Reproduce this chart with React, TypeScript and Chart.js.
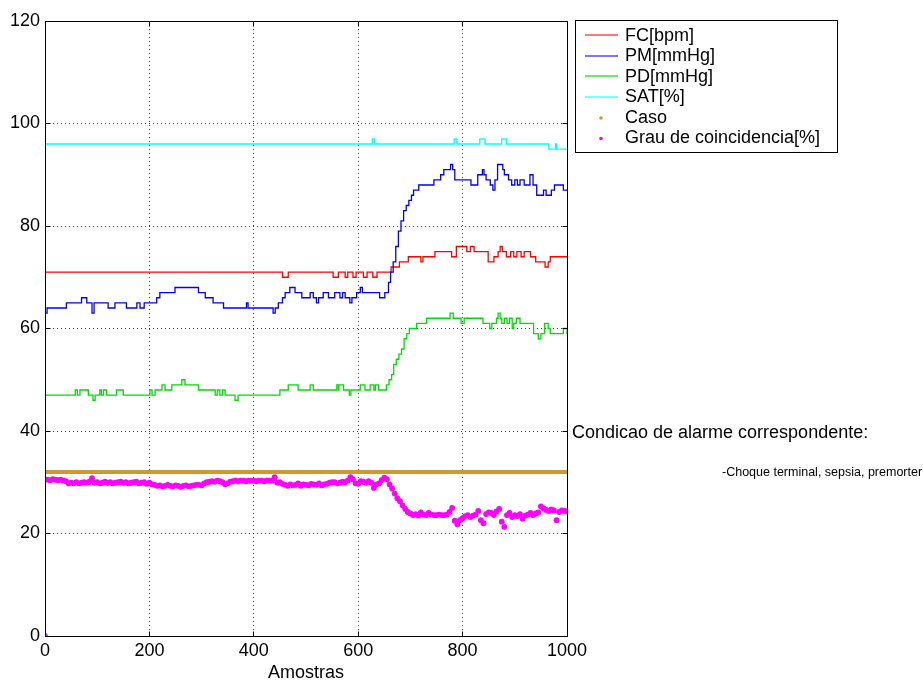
import React, { useEffect, useRef } from 'react';
import { Chart, registerables } from 'chart.js';

Chart.register(...registerables);

// ---------- data ----------
const xTickStep = 200;
const yTickStep = 20;
const xMax = 1000;
const yMax = 120;

// step breakpoints: [sample, value] (value holds from that sample onwards)
const fcSteps: [number, number][] = [
  [0, 71], [455, 70], [466, 71], [552, 70], [562, 71], [575, 70], [580, 71], [590, 70], [596, 71],
  [610, 70], [617, 71], [628, 70], [636, 71], [663, 72], [679, 73], [696, 74], [720, 73], [724, 74],
  [747, 75], [779, 74], [788, 76], [808, 75], [815, 76], [822, 75], [849, 73], [860, 74], [868, 75],
  [872, 76], [876, 75], [884, 74], [892, 75], [898, 74], [904, 75], [912, 74], [918, 75], [930, 74],
  [940, 73], [958, 72], [964, 73], [968, 74], [1000, 74],
];

const pmSteps: [number, number][] = [
  [0, 63], [4, 64], [41, 65], [70, 66], [80, 65], [90, 63], [94, 65], [121, 64], [134, 65], [156, 64],
  [176, 65], [182, 64], [190, 65], [214, 66], [220, 67], [249, 68], [294, 67], [307, 66], [322, 65],
  [342, 64], [386, 65], [389, 64], [437, 63], [441, 64], [447, 65], [455, 66], [460, 67], [469, 68],
  [479, 67], [492, 66], [508, 67], [514, 66], [520, 65], [524, 66], [533, 67], [543, 66], [555, 67],
  [565, 66], [570, 67], [575, 66], [584, 65], [588, 66], [597, 67], [604, 68], [608, 67], [641, 66],
  [651, 67], [658, 69], [662, 71], [667, 73], [672, 76], [677, 79], [682, 81], [687, 83], [692, 84],
  [697, 85], [702, 86], [706, 87], [716, 88], [745, 89], [758, 90], [764, 91], [777, 92], [781, 91],
  [785, 89], [816, 88], [829, 90], [838, 91], [841, 90], [845, 89], [853, 88], [858, 87], [862, 89],
  [867, 92], [877, 91], [880, 90], [888, 89], [894, 88], [900, 89], [905, 88], [910, 89], [918, 88],
  [929, 90], [935, 88], [942, 86], [955, 87], [960, 86], [970, 87], [976, 88], [993, 87], [1000, 87],
];

const pdSteps: [number, number][] = [
  [0, 47], [58, 48], [62, 47], [67, 48], [83, 47], [92, 46], [96, 47], [105, 48], [108, 47], [112, 48],
  [118, 47], [137, 48], [150, 47], [201, 48], [205, 47], [211, 48], [224, 49], [230, 48], [243, 49],
  [262, 50], [268, 49], [294, 48], [326, 47], [330, 48], [335, 47], [340, 48], [345, 47], [364, 46],
  [370, 47], [450, 48], [466, 49], [485, 48], [508, 49], [514, 48], [559, 49], [563, 48], [562, 49],
  [572, 48], [583, 47], [586, 48], [604, 49], [613, 48], [623, 49], [630, 48], [633, 49], [639, 48],
  [654, 49], [659, 50], [664, 51], [668, 53], [673, 54], [678, 55], [683, 56], [688, 58], [693, 59],
  [698, 60], [712, 61], [731, 62], [776, 63], [782, 62], [797, 61], [803, 62], [839, 61], [852, 60],
  [856, 61], [865, 62], [868, 63], [872, 62], [875, 61], [880, 62], [885, 61], [890, 62], [895, 60],
  [898, 61], [903, 62], [910, 61], [936, 59], [945, 58], [950, 59], [957, 61], [964, 60], [968, 59],
  [993, 60], [1000, 59],
];

const satSteps: [number, number][] = [
  [0, 96], [627, 97], [631, 96], [784, 97], [789, 96], [833, 97], [843, 96], [875, 97], [884, 96],
  [965, 95], [978, 96], [980, 95], [1000, 95],
];

const casoValue = 32;

// Grau de coincidencia, one value every 5 samples (0 .. 1000)
const grauStep = 5;
const grauValues: number[] = [
  0, 30.5, 30.4, 30.6, 30.5, 30.4, 30.5, 30.3, 30.2, 29.8,
  29.9, 29.8, 30.0, 29.8, 29.9, 30.0, 29.9, 30.1, 30.8, 29.9,
  30.0, 29.8, 29.9, 30.1, 29.9, 30.0, 29.8, 29.9, 30.0, 30.1,
  29.9, 30.0, 29.8, 29.9, 30.0, 30.1, 29.8, 29.9, 30.0, 29.7,
  29.9, 29.6, 29.5, 29.3, 29.4, 29.2, 29.3, 29.5, 29.3, 29.2,
  29.4, 29.3, 29.1, 29.3, 29.4, 29.2, 29.3, 29.4, 29.5, 29.5,
  29.4, 29.8, 30.0, 30.1, 30.2, 30.1, 30.3, 30.2, 30.0, 29.6,
  29.8, 30.1, 30.2, 30.3, 30.2, 30.3, 30.3, 30.2, 30.3, 30.3,
  30.3, 30.2, 30.3, 30.3, 30.2, 30.3, 30.3, 30.3, 31.0, 29.9,
  30.0, 29.7, 29.5, 29.3, 29.6, 29.4, 29.5, 29.8, 29.3, 29.6,
  29.5, 29.4, 29.7, 29.6, 29.5, 29.8, 29.4, 29.6, 29.7, 29.9,
  30.0, 30.0, 29.8, 29.9, 30.1, 30.0, 30.3, 31.0, 30.6, 29.8,
  29.7, 30.2, 30.1, 29.9, 30.2, 29.9, 28.9, 29.6, 29.8, 30.4,
  30.9, 30.6, 29.6, 28.8, 27.8, 26.9, 26.3, 25.5, 24.8, 24.2,
  23.9, 23.6, 23.8, 23.5, 24.1, 23.7, 23.6, 24.0, 23.7, 23.6,
  23.6, 23.7, 23.6, 23.6, 23.7, 24.2, 25.0, 22.5, 21.8, 22.6,
  23.0, 23.4, 23.6, 23.2, 23.5, 23.7, 24.4, 22.6, 22.0, 23.8,
  24.1, 24.0, 23.6, 24.3, 24.8, 22.3, 21.3, 23.6, 24.0, 23.2,
  23.6, 23.4, 23.8, 22.9, 23.5, 23.7, 24.0, 23.6, 23.9, 24.1,
  25.3, 24.9, 24.6, 24.4, 24.7, 24.5, 22.6, 24.2, 24.5, 24.4,
  24.3,
];

const seriesLabels = ['FC[bpm]', 'PM[mmHg]', 'PD[mmHg]', 'SAT[%]', 'Caso', 'Grau de coincidencia[%]'];
const seriesColors = ['#ff0000', '#0000ff', '#00dd00', '#00ffff', 'rgb(204,153,51)', '#ff00ff'];
const legendLineColors = ['#f77', '#77f', '#6e6', '#7ff'];
const xTitle = 'Amostras';
const alarmTitle = 'Condicao de alarme correspondente:';
const alarmText = '-Choque terminal, sepsia, premorter';

const FONT = "'Liberation Sans', Arial, Helvetica, sans-serif";

// ---------- plugin: box frame, inward ticks, legend, annotations ----------
const matlabPlugin = {
  id: 'matlabDecor',
  afterDraw(chart: any) {
    const { ctx, chartArea: a, scales } = chart;
    const L = Math.floor(a.left) + 0.5;
    const R = Math.floor(a.right) + 0.5;
    const T = Math.floor(a.top) + 0.5;
    const B = Math.floor(a.bottom) + 0.5;
    ctx.save();
    ctx.strokeStyle = '#000';
    ctx.lineWidth = 1;
    ctx.setLineDash([]);
    ctx.strokeRect(L, T, R - L, B - T);
    const tl = 5;
    ctx.beginPath();
    for (let v = 0; v <= xMax; v += xTickStep) {
      const px = Math.floor(scales.x.getPixelForValue(v)) + 0.5;
      ctx.moveTo(px, B); ctx.lineTo(px, B - tl);
      ctx.moveTo(px, T); ctx.lineTo(px, T + tl);
    }
    for (let v = 0; v <= yMax; v += yTickStep) {
      const py = Math.floor(scales.y.getPixelForValue(v)) + 0.5;
      ctx.moveTo(L, py); ctx.lineTo(L + tl, py);
      ctx.moveTo(R, py); ctx.lineTo(R - tl, py);
    }
    ctx.stroke();

    // legend box
    const lx = 575.5, ly = 20.5, lw = 262, lh = 132;
    ctx.fillStyle = '#fff';
    ctx.fillRect(lx, ly, lw, lh);
    ctx.strokeStyle = '#000';
    ctx.strokeRect(lx, ly, lw, lh);
    ctx.font = `18px ${FONT}`;
    ctx.textBaseline = 'middle';
    ctx.textAlign = 'left';
    seriesLabels.forEach((lab, i) => {
      const cy = 35 + i * 20.5;
      if (i < 4) {
        ctx.strokeStyle = legendLineColors[i];
        ctx.lineWidth = 2;
        ctx.beginPath();
        ctx.moveTo(585, Math.round(cy));
        ctx.lineTo(618, Math.round(cy));
        ctx.stroke();
      } else {
        ctx.fillStyle = seriesColors[i];
        ctx.beginPath();
        ctx.arc(601, cy + 1, 1.8, 0, Math.PI * 2);
        ctx.fill();
      }
      ctx.fillStyle = '#000';
      ctx.fillText(lab, 625, cy + 1);
    });

    // annotations
    ctx.fillStyle = '#000';
    ctx.font = `18px ${FONT}`;
    ctx.fillText(alarmTitle, 572, 433);
    ctx.font = `12.5px ${FONT}`;
    ctx.fillText(alarmText, 722, 473);
    ctx.restore();
  },
};

export default function App() {
  const canvasRef = useRef<HTMLCanvasElement | null>(null);

  useEffect(() => {
    if (!canvasRef.current) return;
    const toXY = (arr: [number, number][]) => arr.map(([x, y]) => ({ x, y }));
    const grauData = grauValues.map((y, i) => ({ x: i * grauStep, y }));
    const casoData = grauValues.map((_, i) => ({ x: i * grauStep, y: casoValue }));
    const stepSeries = [fcSteps, pmSteps, pdSteps, satSteps];

    const chart = new Chart(canvasRef.current, {
      type: 'line',
      data: {
        datasets: [
          ...stepSeries.map((s, i) => ({
            label: seriesLabels[i],
            data: toXY(s),
            borderColor: seriesColors[i],
            backgroundColor: seriesColors[i],
            borderWidth: 1.3,
            pointRadius: 0,
            stepped: true as const,
            fill: false,
            order: 10 - i,
          })),
          {
            label: seriesLabels[4],
            data: casoData,
            borderColor: seriesColors[4],
            backgroundColor: seriesColors[4],
            borderWidth: 4,
            pointRadius: 0,
            fill: false,
            order: 2,
          },
          {
            label: seriesLabels[5],
            data: grauData,
            showLine: false,
            borderColor: seriesColors[5],
            backgroundColor: seriesColors[5],
            pointBackgroundColor: seriesColors[5],
            pointBorderColor: seriesColors[5],
            pointBorderWidth: 0,
            pointRadius: 2.9,
            fill: false,
            order: 1,
          },
        ],
      },
      options: {
        responsive: false,
        animation: false,
        devicePixelRatio: 1,
        layout: { padding: { top: 21, right: 356, left: 0, bottom: 0 } },
        plugins: { legend: { display: false }, tooltip: { enabled: false } },
        scales: {
          x: {
            type: 'linear',
            min: 0,
            max: xMax,
            ticks: {
              stepSize: xTickStep, color: '#000', font: { size: 18, family: FONT }, padding: 4, maxRotation: 0,
              callback: (v: any) => String(v),
            },
            grid: { color: 'rgba(0,0,0,0.75)', drawTicks: false, lineWidth: 1 },
            border: { display: false, dash: [1, 3] },
            title: { display: true, text: xTitle, color: '#000', font: { size: 18, family: FONT, lineHeight: 1 }, padding: 0 },
            afterFit: (s: any) => { s.height = 46; },
          },
          y: {
            type: 'linear',
            min: 0,
            max: yMax,
            ticks: {
              stepSize: yTickStep, color: '#000', font: { size: 18, family: FONT }, padding: 5,
              callback: (v: any) => String(v),
            },
            grid: { color: 'rgba(0,0,0,0.75)', drawTicks: false, lineWidth: 1 },
            border: { display: false, dash: [1, 3] },
            afterFit: (s: any) => { s.width = 45; },
          },
        },
      },
      plugins: [matlabPlugin],
    } as any);
    return () => chart.destroy();
  }, []);

  return (
    <div style={{ position: 'absolute', left: 0, top: 0, width: 923, height: 682, background: '#fff' }}>
      <canvas ref={canvasRef} width={923} height={682} style={{ width: 923, height: 682, display: 'block' }} />
    </div>
  );
}
